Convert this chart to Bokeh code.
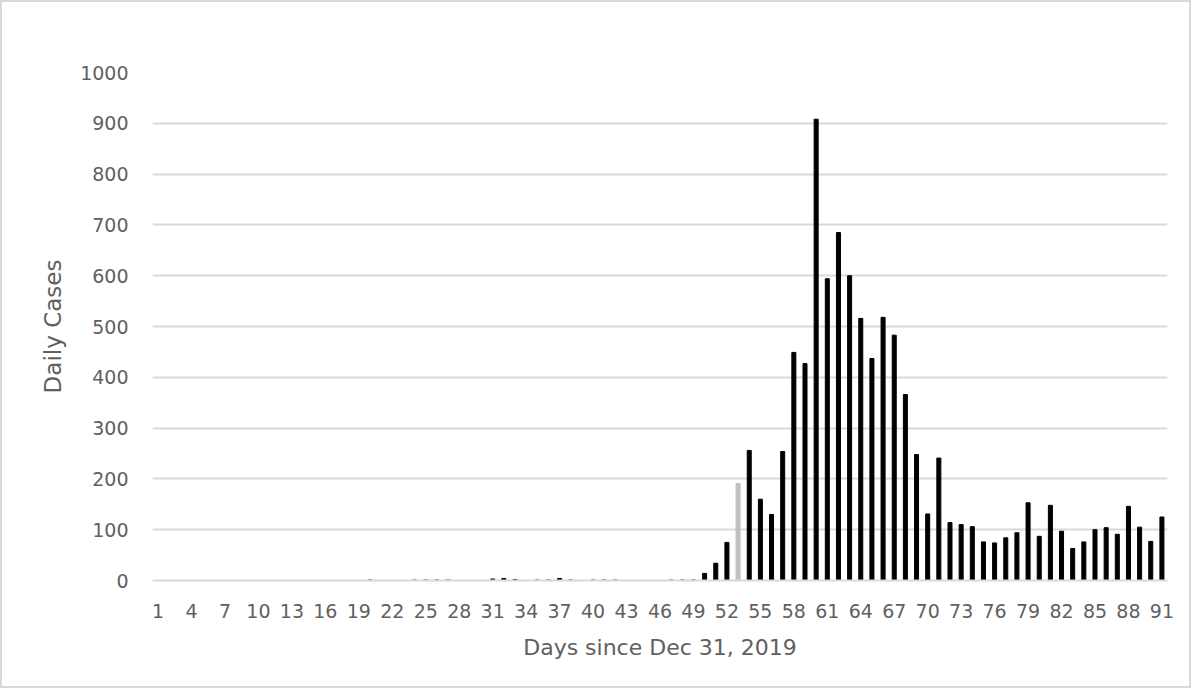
from bokeh.plotting import figure
from bokeh.models import Range1d, FixedTicker, ColumnDataSource
from bokeh.embed import file_html
from bokeh.resources import INLINE

# ---- data ----
days = list(range(1, 92))
cases = (
    [0] * 19 +                      # days 1-19
    [1, 0, 0, 0, 1, 1, 1, 1,        # days 20-27
     0, 0, 0,                       # days 28-30
     3, 4, 2, 0, 1, 1, 4, 1, 0,     # days 31-39
     1, 1, 1, 0, 0, 0, 0,           # days 40-46
     1, 1, 1,                       # days 47-49
     14, 34, 75, 191, 256, 160, 130, 254, 449, 427,   # days 50-59
     908, 594, 685, 600, 516, 437, 518, 483, 366, 248,  # days 60-69
     131, 241, 114, 110, 106, 76, 74, 84, 94, 153,     # days 70-79
     87, 148, 97, 63, 76, 100, 104, 91, 146, 105,      # days 80-89
     77, 125]                                          # days 90-91
)
highlight_days = [53]
x_tick_labels = list(range(1, 92, 3))
y_ticks = list(range(0, 1001, 100))

colors = ["#BFBFBF" if d in highlight_days else "#000000" for d in days]
src = ColumnDataSource(dict(x=days, top=cases, color=colors))

FONT = "DejaVu Sans"
TEXT_COLOR = "#606060"

p = figure(width=1191, height=688, output_backend="svg", toolbar_location=None,
           x_range=Range1d(0.5, 91.5), y_range=Range1d(0, 1000),
           min_border_left=150, min_border_right=26, min_border_top=70, min_border_bottom=110)
p.styles = {"border": "2px solid #D9D9D9", "box-sizing": "border-box"}

p.vbar(x="x", top="top", width=0.36, color="color", source=src)

p.outline_line_color = None
p.xgrid.grid_line_color = None
p.ygrid.grid_line_color = "#D9D9D9"
p.ygrid.grid_line_width = 2
p.ygrid.ticker = FixedTicker(ticks=y_ticks)

p.xaxis.ticker = FixedTicker(ticks=x_tick_labels)
p.xaxis.axis_line_color = "#D9D9D9"
p.xaxis.axis_line_width = 2
p.xaxis.major_tick_line_color = None
p.xaxis.minor_tick_line_color = None
p.xaxis.major_label_standoff = 17
p.xaxis.axis_label = "Days since Dec 31, 2019"
p.xaxis.axis_label_standoff = 14

p.yaxis.ticker = FixedTicker(ticks=y_ticks)
p.yaxis.axis_line_color = None
p.yaxis.major_tick_line_color = None
p.yaxis.minor_tick_line_color = None
p.yaxis.major_label_standoff = 18
p.yaxis.axis_label = "Daily Cases"
p.yaxis.axis_label_standoff = 11

for ax in (p.xaxis[0], p.yaxis[0]):
    ax.major_label_text_font = FONT
    ax.major_label_text_font_size = "19px"
    ax.major_label_text_color = TEXT_COLOR
    ax.axis_label_text_font = FONT
    ax.axis_label_text_font_size = "22px"
    ax.axis_label_text_font_style = "normal"
    ax.axis_label_text_color = TEXT_COLOR
p.yaxis.axis_label_text_font_size = "23px"

open("out.html", "w").write(file_html(p, INLINE))
